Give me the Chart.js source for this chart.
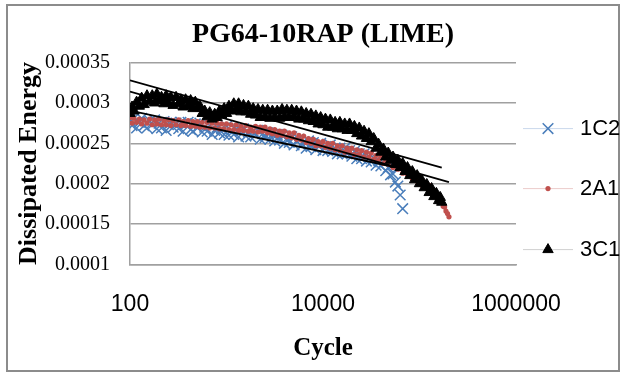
<!DOCTYPE html>
<html>
<head>
<meta charset="utf-8">
<script src="https://cdn.jsdelivr.net/npm/chart.js"></script>
<style>
  html, body { margin: 0; padding: 0; background: #fff; }
  #chart { display: block; }
</style>
</head>
<body>
<canvas id="chart" width="622" height="374"></canvas>
<script>
var seriesNames = ['1C2', '2A1', '3C1'];

// load cycles shared by the three specimens (each one stops at its own failure)
var cycles = [100, 105, 110, 117, 125, 132, 140, 150, 160, 170,
  180, 190, 200, 212, 225, 237, 250, 265, 280, 300,
  320, 337, 355, 377, 400, 425, 450, 475, 500, 530,
  560, 595, 630, 670, 710, 755, 800, 845, 890, 945,
  1000, 1060, 1120, 1190, 1260, 1335, 1410, 1500, 1590, 1685,
  1780, 1890, 2000, 2120, 2240, 2375, 2510, 2665, 2820, 2990,
  3160, 3355, 3550, 3765, 3980, 4225, 4470, 4740, 5010, 5315,
  5620, 5965, 6310, 6695, 7080, 7510, 7940, 8425, 8910, 9455,
  10000, 10600, 11200, 11900, 12600, 13350, 14100, 14950, 15800, 16800,
  17800, 18850, 19900, 21150, 22400, 23750, 25100, 26650, 28200, 29900,
  31600, 33550, 35500, 37650, 39800, 42250, 44700, 47400, 50100, 53150,
  56200, 59650, 63100, 66950, 70800, 75100, 79400, 84250, 89100, 94550,
  100000, 106000, 112000, 119000, 126000, 133500, 141000, 149500, 158000, 164000,
  170000, 176000, 182000, 188000, 195000, 202000];

var energy1C2 = [0.000279, 0.000272, 0.000281, 0.000269, 0.000276, 0.000281, 0.000272, 0.000269, 0.000278, 0.000273,
  0.000279, 0.000268, 0.000275, 0.000269, 0.000277, 0.000266, 0.000273, 0.000276, 0.000270, 0.000275,
  0.000268, 0.000276, 0.000265, 0.000273, 0.000276, 0.000267, 0.000265, 0.000274, 0.000269, 0.000275,
  0.000264, 0.000270, 0.000265, 0.000272, 0.000261, 0.000266, 0.000270, 0.000263, 0.000268, 0.000261,
  0.000271, 0.000260, 0.000266, 0.000261, 0.000268, 0.000258, 0.000266, 0.000268, 0.000259, 0.000264,
  0.000258, 0.000265, 0.000260, 0.000266, 0.000255, 0.000262, 0.000257, 0.000263, 0.000255, 0.000261,
  0.000253, 0.000261, 0.000254, 0.000260, 0.000250, 0.000256, 0.000251, 0.000258, 0.000248, 0.000253,
  0.000255, 0.000247, 0.000252, 0.000244, 0.000253, 0.000246, 0.000251, 0.000242, 0.000249, 0.000250,
  0.000241, 0.000246, 0.000241, 0.000248, 0.000240, 0.000244, 0.000237, 0.000244, 0.000237, 0.000244,
  0.000237, 0.000241, 0.000234, 0.000240, 0.000231, 0.000237, 0.000231, 0.000237, 0.000228, 0.000234,
  0.000227, 0.000232, 0.000223, 0.000229, 0.000222, 0.000226, 0.000216, 0.000220, 0.000211, 0.000212,
  0.000202, 0.000197, 0.000186, 0.000169];

var energy2A1 = [0.000282, 0.000275, 0.000281, 0.000276, 0.000280, 0.000274, 0.000279, 0.000275, 0.000280, 0.000273,
  0.000279, 0.000274, 0.000280, 0.000273, 0.000278, 0.000273, 0.000279, 0.000272, 0.000278, 0.000273,
  0.000279, 0.000272, 0.000277, 0.000272, 0.000278, 0.000271, 0.000277, 0.000271, 0.000277, 0.000270,
  0.000276, 0.000270, 0.000276, 0.000269, 0.000275, 0.000269, 0.000275, 0.000268, 0.000274, 0.000268,
  0.000274, 0.000267, 0.000273, 0.000267, 0.000273, 0.000266, 0.000271, 0.000266, 0.000272, 0.000265,
  0.000270, 0.000265, 0.000271, 0.000264, 0.000270, 0.000265, 0.000270, 0.000263, 0.000268, 0.000262,
  0.000267, 0.000260, 0.000265, 0.000260, 0.000265, 0.000258, 0.000263, 0.000257, 0.000263, 0.000255,
  0.000260, 0.000254, 0.000259, 0.000251, 0.000256, 0.000250, 0.000255, 0.000247, 0.000252, 0.000247,
  0.000252, 0.000245, 0.000250, 0.000244, 0.000250, 0.000242, 0.000247, 0.000241, 0.000247, 0.000239,
  0.000244, 0.000239, 0.000244, 0.000236, 0.000242, 0.000236, 0.000241, 0.000233, 0.000239, 0.000233,
  0.000238, 0.000230, 0.000235, 0.000229, 0.000234, 0.000225, 0.000230, 0.000224, 0.000229, 0.000220,
  0.000224, 0.000218, 0.000222, 0.000213, 0.000217, 0.000211, 0.000215, 0.000206, 0.000210, 0.000203,
  0.000208, 0.000198, 0.000202, 0.000194, 0.000198, 0.000188, 0.000191, 0.000184, 0.000186, 0.000179,
  0.000179, 0.000172, 0.000171, 0.000166, 0.000163, 0.000159];

var energy3C1 = [0.000287, 0.000295, 0.000290, 0.000301, 0.000296, 0.000306, 0.000298, 0.000309, 0.000302, 0.000309,
  0.000300, 0.000311, 0.000303, 0.000307, 0.000299, 0.000309, 0.000300, 0.000307, 0.000297, 0.000307,
  0.000299, 0.000304, 0.000295, 0.000304, 0.000296, 0.000303, 0.000293, 0.000301, 0.000294, 0.000296,
  0.000287, 0.000290, 0.000283, 0.000288, 0.000280, 0.000286, 0.000282, 0.000290, 0.000285, 0.000293,
  0.000287, 0.000296, 0.000290, 0.000299, 0.000292, 0.000299, 0.000289, 0.000297, 0.000289, 0.000296,
  0.000286, 0.000293, 0.000285, 0.000292, 0.000282, 0.000291, 0.000283, 0.000291, 0.000281, 0.000290,
  0.000282, 0.000290, 0.000281, 0.000292, 0.000283, 0.000291, 0.000282, 0.000291, 0.000283, 0.000290,
  0.000280, 0.000289, 0.000280, 0.000287, 0.000278, 0.000286, 0.000277, 0.000284, 0.000274, 0.000282,
  0.000273, 0.000280, 0.000270, 0.000279, 0.000270, 0.000276, 0.000268, 0.000276, 0.000268, 0.000274,
  0.000266, 0.000274, 0.000266, 0.000271, 0.000262, 0.000269, 0.000259, 0.000265, 0.000256, 0.000262,
  0.000252, 0.000256, 0.000244, 0.000249, 0.000239, 0.000243, 0.000233, 0.000238, 0.000229, 0.000233,
  0.000224, 0.000229, 0.000220, 0.000225, 0.000215, 0.000220, 0.000210, 0.000215, 0.000205, 0.000210,
  0.000200, 0.000204, 0.000195, 0.000199, 0.000189, 0.000194, 0.000184, 0.000188, 0.000179, 0.000183,
  0.000177];

// log trendlines (straight on the log axis): end points
var trendCycles1C2 = [100, 66950];
var trend1C2 = [0.0002905, 0.0002185];
var trendCycles2A1 = [100, 202000];
var trend2A1 = [0.000314, 0.000202];
var trendCycles3C1 = [100, 170000];
var trend3C1 = [0.000328, 0.00022];

var xTicks = [100, 10000, 1000000];
var yTicks = [0.0001, 0.00015, 0.0002, 0.00025, 0.0003, 0.00035];

function toPoints(xs, ys) {
  return ys.map(function (y, i) { return { x: xs[i], y: y }; });
}

var serif = '"Liberation Serif", "Times New Roman", serif';
var sans = '"Liberation Sans", Arial, sans-serif';

var markers = [
  { style: 'crossRot', radius: 7.5, color: '#4A7EBB', width: 1.5, line: '#c9d8ec' },
  { style: 'circle', radius: 2.6, color: '#C0504D', width: 0, line: '#eccccb' },
  { style: 'triangle', radius: 6, color: '#000000', width: 1, line: '#d0d0d0' }
];

var frame = {
  id: 'frame',
  beforeDraw: function (chart) {
    var ctx = chart.ctx;
    ctx.save();
    ctx.fillStyle = '#fff';
    ctx.fillRect(0, 0, chart.width, chart.height);
    ctx.strokeStyle = '#8c8c8c';
    ctx.lineWidth = 2;
    ctx.strokeRect(7, 5, 612, 366);
    ctx.restore();
  }
};

// Excel style legend: faint line with the marker in the middle
var sideLegend = {
  id: 'sideLegend',
  afterDraw: function (chart) {
    var ctx = chart.ctx, area = chart.chartArea;
    var rows = [66, 126, 187];
    ctx.save();
    seriesNames.forEach(function (name, i) {
      var m = markers[i];
      var y = area.top + rows[i];
      var x0 = area.right + 7;
      ctx.strokeStyle = m.line;
      ctx.lineWidth = 1;
      ctx.beginPath();
      ctx.moveTo(x0, y);
      ctx.lineTo(x0 + 50, y);
      ctx.stroke();
      ctx.fillStyle = m.color;
      ctx.strokeStyle = m.color;
      ctx.lineWidth = m.width;
      Chart.helpers.drawPoint(ctx, { pointStyle: m.style, radius: m.radius, borderWidth: m.width, rotation: 0 }, x0 + 25, y);
      ctx.fillStyle = '#000';
      ctx.font = '22px ' + sans;
      ctx.textBaseline = 'middle';
      ctx.textAlign = 'left';
      ctx.fillText(name, x0 + 57, y);
    });
    ctx.restore();
  }
};

function trendSet(xs, ys) {
  return {
    data: toPoints(xs, ys),
    showLine: true,
    borderColor: '#000',
    borderWidth: 1.8,
    pointRadius: 0,
    order: 0
  };
}

var ctx = document.getElementById('chart');
var chart = new Chart(ctx, {
  type: 'scatter',
  data: {
    datasets: [
      trendSet(trendCycles1C2, trend1C2),
      trendSet(trendCycles2A1, trend2A1),
      trendSet(trendCycles3C1, trend3C1),
      {
        label: seriesNames[2],
        data: toPoints(cycles, energy3C1),
        pointStyle: 'triangle',
        pointRadius: 6,
        backgroundColor: '#000',
        borderColor: '#000',
        borderWidth: 1,
        order: 1
      },
      {
        label: seriesNames[1],
        data: toPoints(cycles, energy2A1),
        pointStyle: 'circle',
        pointRadius: 2.6,
        backgroundColor: '#C0504D',
        borderColor: '#C0504D',
        borderWidth: 0,
        order: 2
      },
      {
        label: seriesNames[0],
        data: toPoints(cycles, energy1C2),
        pointStyle: 'crossRot',
        pointRadius: 7.5,
        borderColor: '#4A7EBB',
        backgroundColor: '#4A7EBB',
        borderWidth: 1.5,
        order: 3
      }
    ]
  },
  options: {
    responsive: false,
    animation: false,
    devicePixelRatio: 1,
    events: [],
    layout: { padding: { left: 0, right: 106, top: 0, bottom: 13 } },
    plugins: {
      legend: { display: false },
      tooltip: { enabled: false },
      title: {
        display: true,
        text: 'PG64-10RAP (LIME)',
        fullSize: false,
        color: '#000',
        font: { family: serif, size: 28, weight: 'bold', lineHeight: 1.2 },
        padding: { top: 18, bottom: 11 }
      }
    },
    scales: {
      x: {
        type: 'logarithmic',
        min: 100,
        max: 1000000,
        afterBuildTicks: function (s) { s.ticks = xTicks.map(function (v) { return { value: v }; }); },
        ticks: {
          callback: function (v) { return String(v); },
          color: '#000',
          font: { family: sans, size: 23 },
          padding: 18,
          maxRotation: 0,
          autoSkip: false
        },
        grid: { display: false },
        border: { color: '#a0a0a0', width: 1.5 },
        title: {
          display: true,
          text: 'Cycle',
          color: '#000',
          font: { family: serif, size: 25, weight: 'bold', lineHeight: 1 },
          padding: 0
        }
      },
      y: {
        min: 0.0001,
        max: 0.00035,
        afterBuildTicks: function (s) { s.ticks = yTicks.map(function (v) { return { value: v }; }); },
        afterFit: function (s) { s.width = 130; },
        ticks: {
          callback: function (v) { return String(v); },
          color: '#000',
          font: { family: serif, size: 20 },
          padding: 20
        },
        grid: { color: '#a0a0a0', lineWidth: 1.5, drawTicks: false },
        border: { color: '#a0a0a0', width: 1.5 },
        title: {
          display: true,
          text: 'Dissipated Energy',
          color: '#000',
          font: { family: serif, size: 26, weight: 'bold', lineHeight: 1 },
          padding: { top: 16, bottom: 0 }
        }
      }
    }
  },
  plugins: [frame, sideLegend]
});
</script>
</body>
</html>
